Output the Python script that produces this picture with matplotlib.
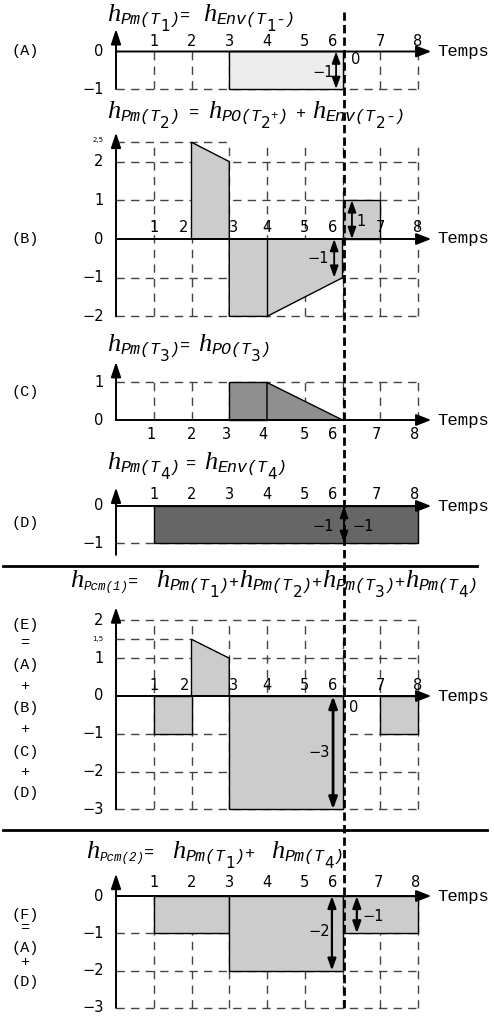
import matplotlib
matplotlib.use('Agg')
import matplotlib.pyplot as plt
from matplotlib.patches import Polygon

# ---- data ----
temps = [1, 2, 3, 4, 5, 6, 7, 8]
t_coupure = 6.03

# (A) h_Pm(T1)
a_x = [3, 3, 6, 6]
a_y = [0, -1, -1, 0]
a_yticks = [0, -1]

# (B) h_Pm(T2)
b_po_x = [2, 2, 3, 3]
b_po_y = [0, 2.5, 2, 0]
b_neg_x = [3, 3, 4, 6, 6]
b_neg_y = [0, -2, -2, -1, 0]
b_env_x = [6, 6, 7, 7]
b_env_y = [0, 1, 1, 0]
b_yticks = [2, 1, 0, -1, -2]

# (C) h_Pm(T3)
c1_x = [3, 3, 4, 4]
c1_y = [0, 1, 1, 0]
c2_x = [4, 4, 6]
c2_y = [0, 1, 0]
c_yticks = [1, 0]

# (D) h_Pm(T4)
d_x = [1, 1, 8, 8]
d_y = [0, -1, -1, 0]
d_yticks = [0, -1]

# (E) h_Pcm(1)
e1_x = [1, 1, 2, 2]
e1_y = [0, -1, -1, 0]
e2_x = [2, 2, 3, 3]
e2_y = [0, 1.5, 1, 0]
e3_x = [3, 3, 6, 6]
e3_y = [0, -3, -3, 0]
e4_x = [7, 7, 8, 8]
e4_y = [0, -1, -1, 0]
e_yticks = [2, 1, 0, -1, -2, -3]

# (F) h_Pcm(2)
f1_x = [1, 1, 3, 3]
f1_y = [0, -1, -1, 0]
f2_x = [3, 3, 6, 6]
f2_y = [0, -2, -2, 0]
f3_x = [6, 6, 8, 8]
f3_y = [0, -1, -1, 0]
f_yticks = [0, -1, -2, -3]

# ---- figure ----
W, H = 494, 1021
X0, UX = 116, 37.75
fig = plt.figure(figsize=(W / 100, H / 100), dpi=100)
rend = fig.canvas.get_renderer()

MONO = 'Liberation Mono'
GRIS = '#444444'


def panel(top, bot, y0, uy):
    ax = fig.add_axes([0, 1 - bot / H, 1, (bot - top) / H])
    ax.set_xlim(-X0 / UX, (W - X0) / UX)
    ax.set_ylim((y0 - bot) / uy, (y0 - top) / uy)
    ax.axis('off')
    return ax


def grille(ax, niveaux, bas, haut, xs=temps):
    for v in niveaux:
        ax.plot([0, 8], [v, v], color=GRIS, lw=1, ls=(0, (6, 4.5)), zorder=1)
    for t in xs:
        ax.plot([t, t], [bas, haut], color=GRIS, lw=1, ls=(0, (6, 4.5)), zorder=1)


def axes_fleches(ax, bas, haut):
    ax.annotate('', xy=(8.35, 0), xytext=(0, 0),
                arrowprops=dict(arrowstyle='-|>,head_length=0.9,head_width=0.35',
                                lw=1.4, color='k', shrinkA=0, shrinkB=0), zorder=5)
    ax.text(8.5, 0, 'Temps', family=MONO, fontsize=12.5, va='center')
    ax.annotate('', xy=(0, haut), xytext=(0, bas),
                arrowprops=dict(arrowstyle='-|>,head_length=0.9,head_width=0.3',
                                lw=1.4, color='k', shrinkA=0, shrinkB=0), zorder=5)


def remplir(ax, xs, ys, couleur):
    ax.add_patch(Polygon(list(zip(xs, ys)), closed=True, fc=couleur, ec='k',
                         lw=1, zorder=3))


def etiq_x(ax, dy, decal=None):
    decal = decal or {}
    for t in temps:
        ax.text(t + decal.get(t, 0), dy, str(t), ha='center', va='center',
                fontsize=10.5, zorder=6)


def etiq_y(ax, valeurs):
    for v in valeurs:
        ax.text(-0.33, v, str(v).replace('-', '\u2212'), ha='right', va='center',
                fontsize=10.5)


def double_fleche(ax, x, y1, y2, lw=1.3):
    ax.annotate('', xy=(x, y2), xytext=(x, y1),
                arrowprops=dict(arrowstyle='<|-|>,head_length=0.7,head_width=0.25',
                                lw=lw, color='k', shrinkA=0, shrinkB=0), zorder=7)


def val(ax, x, y, s, ha='center'):
    ax.text(x, y, s.replace('-', '\u2212'), ha=ha, va='center', fontsize=10.5, zorder=8)


# styles des morceaux de formule : (famille, style, taille, décalage vertical px)
STYLES = {
    'h': ('Liberation Serif', 'italic', 19, 0),
    'i': (MONO, 'italic', 12, 3),
    'c': (MONO, 'italic', 9, 3),
    'n': ('DejaVu Sans', 'normal', 11, 10),
    'p': (MONO, 'normal', 9, 1),
    'o': (MONO, 'normal', 12, 0),
}


def formule(x, y, morceaux):
    for s, k in morceaux:
        if k == 'gap':
            x += s
            continue
        fam, st, taille, dy = STYLES[k]
        t = fig.text(x / W, 1 - (y + dy) / H, s, family=fam, style=st,
                     fontsize=taille, va='baseline')
        x += t.get_window_extent(rend).width


def hpm(n):
    return [('h', 'h'), ('Pm(T', 'i'), (str(n), 'n'), (')', 'i')]


# (A)
ax = panel(0, 100, 51.5, 37.5)
grille(ax, [-1], -1, 0)
remplir(ax, a_x, a_y, '#ececec')
axes_fleches(ax, -1, 0.6)
etiq_x(ax, 0.28, {6: -0.25})
etiq_y(ax, a_yticks)
double_fleche(ax, 5.83, 0, -1)
val(ax, 5.5, -0.55, '-1')
val(ax, 6.35, -0.2, '0')
formule(107, 21, hpm(1) + [('=', 'o'), (13, 'gap'), ('h', 'h'), ('Env(T', 'i'),
                           ('1', 'n'), ('-)', 'i')])

# (B)
ax = panel(100, 330, 239, 38.7)
grille(ax, [2, 1, -1, -2], -2, 2.5)
ax.plot([0, 3], [2.5, 2.5], color=GRIS, lw=1, ls=(0, (6, 4.5)), zorder=1)
remplir(ax, b_po_x, b_po_y, '#cccccc')
remplir(ax, b_neg_x, b_neg_y, '#cccccc')
remplir(ax, b_env_x, b_env_y, '#cccccc')
ax.plot([4, 4], [0, -2], color='k', lw=1, zorder=4)
axes_fleches(ax, -2, 2.75)
etiq_x(ax, 0.3, {2: -0.2, 3: 0.12, 6: -0.25})
etiq_y(ax, b_yticks)
ax.text(-0.33, 2.55, '2,5', ha='right', va='center', fontsize=5)
double_fleche(ax, 5.78, 0, -1)
val(ax, 5.35, -0.5, '-1')
double_fleche(ax, 6.25, 0, 1)
val(ax, 6.5, 0.45, '1')
formule(107, 118, hpm(2) + [(9, 'gap'), ('=', 'o'), (9, 'gap'), ('h', 'h'),
                            ('PO(T', 'i'), ('2', 'n'), ('+', 'p'), (')', 'i'),
                            (8, 'gap'), ('+', 'o'), (6, 'gap'), ('h', 'h'),
                            ('Env(T', 'i'), ('2', 'n'), ('-)', 'i')])

# (C)
ax = panel(330, 450, 420, 37.5)
grille(ax, [1], 0, 1)
remplir(ax, c1_x, c1_y, '#8f8f8f')
remplir(ax, c2_x, c2_y, '#8f8f8f')
axes_fleches(ax, 0, 1.55)
etiq_x(ax, -0.38, {1: -0.08, 3: -0.08, 4: -0.1, 6: -0.25, 7: -0.1, 8: -0.1})
etiq_y(ax, c_yticks)
formule(107, 351, hpm(3) + [('=', 'o'), (8, 'gap'), ('h', 'h'), ('PO(T', 'i'),
                            ('3', 'n'), (')', 'i')])

# (D)
ax = panel(450, 560, 506, 37)
grille(ax, [-1], -1, -1, xs=[])
remplir(ax, d_x, d_y, '#666666')
axes_fleches(ax, -1.32, 0.5)
etiq_x(ax, 0.3, {6: -0.25, 7: -0.1, 8: -0.1})
etiq_y(ax, d_yticks)
double_fleche(ax, 6.04, 0, -1)
val(ax, 5.5, -0.55, '-1')
val(ax, 6.55, -0.55, '-1')
formule(107, 469, hpm(4) + [(6, 'gap'), ('=', 'o'), (8, 'gap'), ('h', 'h'),
                            ('Env(T', 'i'), ('4', 'n'), (')', 'i')])

# (E)
ax = panel(570, 820, 696, 37.8)
grille(ax, [2, 1, -1, -2, -3], -3, 2)
ax.plot([0, 2], [1.5, 1.5], color=GRIS, lw=1, ls=(0, (6, 4.5)), zorder=1)
remplir(ax, e1_x, e1_y, '#cccccc')
remplir(ax, e2_x, e2_y, '#cccccc')
remplir(ax, e3_x, e3_y, '#cccccc')
remplir(ax, e4_x, e4_y, '#cccccc')
axes_fleches(ax, -3, 2.35)
etiq_x(ax, 0.27, {2: -0.18, 3: 0.12, 6: -0.25})
etiq_y(ax, e_yticks)
ax.text(-0.33, 1.5, '1,5', ha='right', va='center', fontsize=5)
double_fleche(ax, 5.75, 0, -3, lw=2)
val(ax, 5.38, -1.5, '-3')
val(ax, 6.3, -0.3, '0')
formule(70, 587, [('h', 'h'), ('Pcm(1)', 'c'), ('=', 'o'), (18, 'gap')]
        + hpm(1) + [('+', 'o')] + hpm(2) + [('+', 'o')] + hpm(3)
        + [('+', 'o')] + hpm(4))

# (F)
ax = panel(835, 1021, 896, 37.3)
grille(ax, [-1, -2, -3], -3, 0)
remplir(ax, f1_x, f1_y, '#cccccc')
remplir(ax, f2_x, f2_y, '#cccccc')
remplir(ax, f3_x, f3_y, '#cccccc')
axes_fleches(ax, -3, 0.6)
etiq_x(ax, 0.35, {6: -0.25, 7: -0.05, 8: -0.05})
etiq_y(ax, f_yticks)
double_fleche(ax, 5.72, 0, -2, lw=1.6)
val(ax, 5.38, -0.95, '-2')
double_fleche(ax, 6.38, 0, -1, lw=1.6)
val(ax, 6.8, -0.55, '-1')
formule(86, 858, [('h', 'h'), ('Pcm(2)', 'c'), ('=', 'o'), (18, 'gap')]
        + hpm(1) + [('+', 'o'), (16, 'gap')] + hpm(4))

# ligne pointillée verticale + séparateurs
ov = fig.add_axes([0, 0, 1, 1])
ov.set_xlim(-X0 / UX, (W - X0) / UX)
ov.set_ylim(H, 0)
ov.axis('off')
ov.plot([t_coupure, t_coupure], [12, 1012], color='k', lw=2, ls=(0, (3, 1.5)), zorder=9)
ov.plot([(3 - X0) / UX, (477 - X0) / UX], [566, 566], color='k', lw=2)
ov.plot([(3 - X0) / UX, (487 - X0) / UX], [830, 830], color='k', lw=2)

# étiquettes de gauche
gauche = [('(A)', 51), ('(B)', 239), ('(C)', 392), ('(D)', 523),
          ('(E)', 625), ('=', 643), ('(A)', 665), ('+', 686), ('(B)', 708),
          ('+', 729), ('(C)', 752), ('+', 772), ('(D)', 793),
          ('(F)', 915), ('=', 928), ('(A)', 948), ('+', 962), ('(D)', 982)]
for s, y in gauche:
    fig.text(25 / W, 1 - y / H, s, family=MONO, fontsize=11, ha='center', va='center')

fig.savefig('out.png', dpi=100)
